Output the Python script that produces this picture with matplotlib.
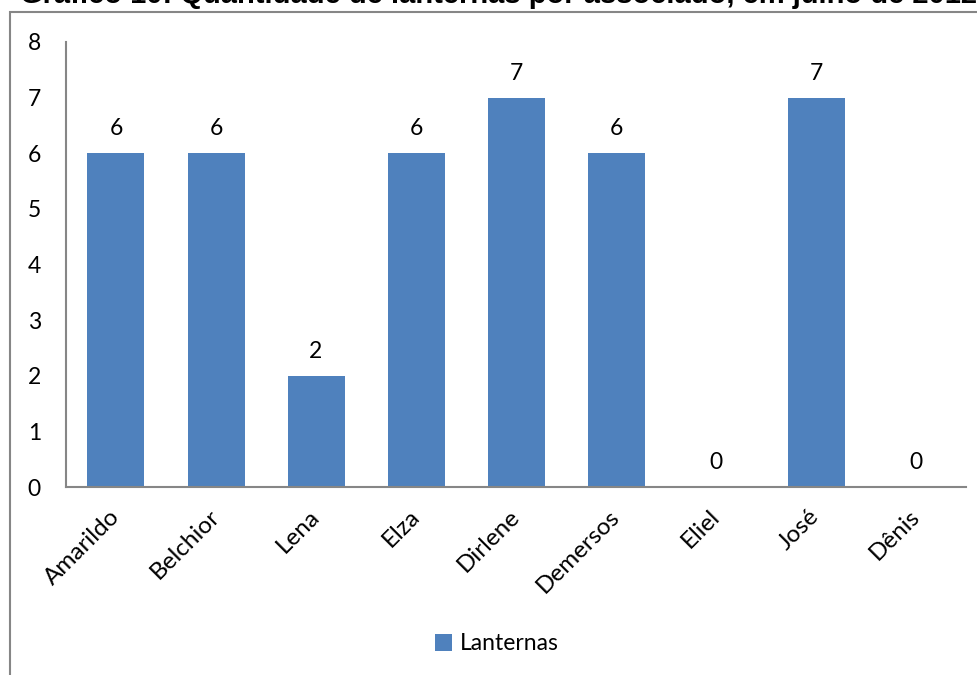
import matplotlib
matplotlib.use("Agg")
import matplotlib.pyplot as plt
from matplotlib.patches import Rectangle

associados = ["Amarildo", "Belchior", "Lena", "Elza", "Dirlene",
              "Demersos", "Eliel", "José", "Dênis"]
lanternas = [6, 6, 2, 6, 7, 6, 0, 7, 0]
y_ticks = [0, 1, 2, 3, 4, 5, 6, 7, 8]
titulo = "Gráfico 10: Quantidade de lanternas por associado, em julho de 2012"
serie = "Lanternas"

W, H = 978, 675
fig = plt.figure(figsize=(W / 100, H / 100), dpi=100)
plt.rcParams["font.family"] = ["Lato", "DejaVu Sans"]

bar_color = "#4F81BD"
axis_color = "#868686"

# chart frame (only its top and left edges fall inside the image)
frame = Rectangle((10 / W, -1.0), 2.0, 2.0 - 12 / H, transform=fig.transFigure,
                  fill=False, edgecolor=axis_color, linewidth=1.5, clip_on=False)
fig.add_artist(frame)

# title, partially above the top edge
fig.text(20 / W, 1 - 3 / H, titulo, ha="left", va="baseline",
         fontsize=21, fontweight="bold", family=["Liberation Sans", "DejaVu Sans"])

left, right = 66 / W, 966 / W
top, bottom = 1 - 42 / H, 1 - 487 / H
ax = fig.add_axes([left, bottom, right - left, top - bottom])

x = list(range(len(associados)))
bars = ax.bar(x, lanternas, width=0.57, color=bar_color, label=serie)

ax.set_xlim(-0.5, len(associados) - 0.5)
ax.set_ylim(0, 8)
ax.set_yticks(y_ticks)
ax.set_xticks(x)
ax.set_xticklabels(associados, rotation=45, ha="right", va="center",
                   rotation_mode="anchor")
ax.tick_params(axis="y", length=0, labelsize=16.5, pad=18)
ax.tick_params(axis="x", length=0, labelsize=17.5, pad=19)

for s in ["top", "right"]:
    ax.spines[s].set_visible(False)
for s in ["left", "bottom"]:
    ax.spines[s].set_color(axis_color)
    ax.spines[s].set_linewidth(1.5)

for xi, v in zip(x, lanternas):
    ax.annotate(str(v), (xi, v), xytext=(0, 10), textcoords="offset points",
                ha="center", va="bottom", fontsize=16.5)

fig.legend(handles=[bars], labels=[serie], loc="center",
           bbox_to_anchor=(497 / W, 1 - 644 / H), frameon=False,
           fontsize=16.5, handlelength=0.75, handleheight=0.75,
           handletextpad=0.35)

fig.savefig("out.png", dpi=100)
